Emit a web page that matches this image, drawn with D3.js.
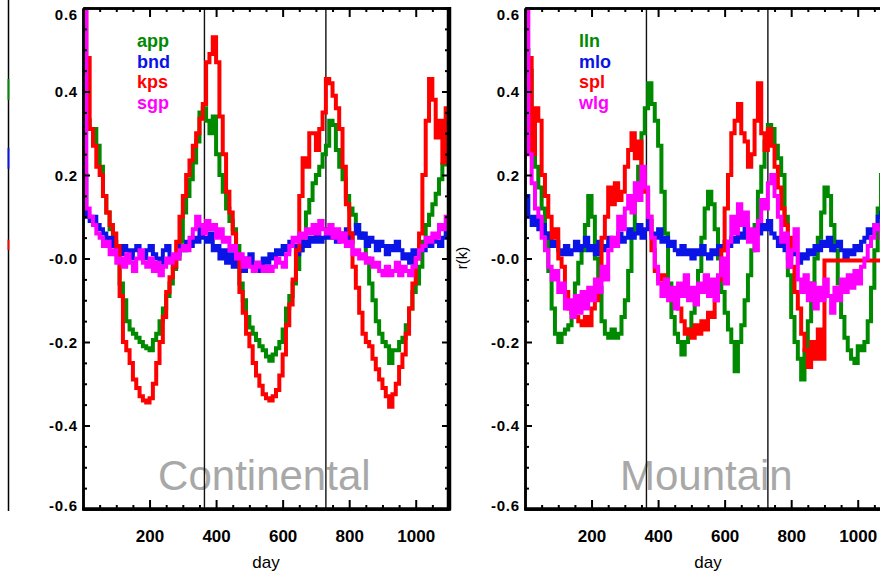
<!DOCTYPE html>
<html>
<head>
<meta charset="utf-8">
<script src="https://cdn.jsdelivr.net/npm/d3@7"></script>
<style>
  body { margin: 0; background: #fff; }
  svg { display: block; }
</style>
</head>
<body>
<svg id="chart" width="880" height="574"></svg>
<script>
// day grid, one sample every 10 days
var days = d3.range(0, 1101, 10);

// Continental sites
var appVals = [0.4, 0.33, 0.31, 0.31, 0.27, 0.22, 0.15, 0.11, 0.07, 0.04,
  0.01, -0.06, -0.1, -0.15, -0.17, -0.18, -0.19, -0.2, -0.21, -0.215,
  -0.22, -0.195, -0.18, -0.15, -0.12, -0.09, -0.06, -0.025, 0.0, 0.04,
  0.11, 0.15, 0.19, 0.23, 0.28, 0.35, 0.36, 0.33, 0.3, 0.34,
  0.25, 0.2, 0.16, 0.12, 0.09, 0.07, 0.03, -0.06, -0.1, -0.14,
  -0.165, -0.18, -0.195, -0.21, -0.22, -0.235, -0.245, -0.23, -0.215, -0.2,
  -0.17, -0.12, -0.09, -0.06, -0.025, 0.02, 0.05, 0.11, 0.14, 0.18,
  0.2, 0.22, 0.25, 0.27, 0.33, 0.32, 0.26, 0.22, 0.19, 0.15,
  0.12, 0.105, 0.08, 0.06, 0.05, 0.0, -0.06, -0.1, -0.15, -0.18,
  -0.2, -0.21, -0.25, -0.22, -0.22, -0.2, -0.19, -0.16, -0.12, -0.08,
  -0.06, -0.02, 0.04, 0.08, 0.105, 0.13, 0.155, 0.19, 0.225, 0.28, 0.26];
var bndVals = [0.2, 0.1, 0.09, 0.1, 0.08, 0.07, 0.06, 0.04, 0.05, 0.03,
  0.02, 0.01, 0.03, 0.02, 0.0, 0.02, 0.03, 0.01, 0.0, 0.02,
  0.03, 0.01, 0.0, -0.01, 0.02, 0.03, 0.0, -0.02, 0.01, 0.03,
  0.02, 0.04, 0.03, 0.05, 0.04, 0.07, 0.05, 0.04, 0.06, 0.02,
  0.03, 0.0, 0.02, -0.01, 0.01, -0.02, 0.0, -0.01, -0.03, 0.0,
  0.01, -0.02, -0.01, -0.03, 0.0, -0.01, 0.01, 0.0, 0.02, 0.01,
  0.03, 0.02, 0.04, 0.03, 0.01, 0.02, 0.04, 0.03, 0.05, 0.04,
  0.06, 0.04, 0.05, 0.07, 0.05, 0.06, 0.04, 0.06, 0.05, 0.07,
  0.04, 0.06, 0.08, 0.05, 0.06, 0.03, 0.05, 0.04, 0.02, 0.04,
  0.03, 0.01, 0.03, 0.02, 0.04, 0.02, 0.0, 0.01, -0.01, 0.02,
  0.01, 0.03, 0.02, 0.04, 0.03, 0.05, 0.04, 0.03, 0.05, 0.08, 0.06];
var kpsVals = [0.6, 0.48, 0.31, 0.27, 0.22, 0.2, 0.15, 0.11, 0.08, 0.06,
  0.03, -0.09, -0.2, -0.22, -0.25, -0.29, -0.31, -0.33, -0.34, -0.345,
  -0.335, -0.3, -0.25, -0.2, -0.14, -0.08, -0.045, -0.02, 0.04, 0.1,
  0.15, 0.2, 0.235, 0.27, 0.3, 0.335, 0.37, 0.47, 0.49, 0.53,
  0.47, 0.34, 0.25, 0.16, 0.11, 0.06, 0.01, -0.08, -0.13, -0.18,
  -0.21, -0.25, -0.28, -0.305, -0.325, -0.335, -0.34, -0.33, -0.315, -0.28,
  -0.23, -0.16, -0.11, -0.05, 0.02, 0.15, 0.24, 0.22, 0.3, 0.3,
  0.26, 0.31, 0.35, 0.43, 0.42, 0.39, 0.36, 0.31, 0.22, 0.13,
  0.06, -0.02, -0.07, -0.13, -0.18, -0.2, -0.21, -0.24, -0.265, -0.29,
  -0.31, -0.33, -0.355, -0.325, -0.3, -0.26, -0.23, -0.18, -0.12, -0.06,
  0.0, 0.06, 0.2, 0.33, 0.43, 0.38, 0.29, 0.33, 0.23, 0.36, 0.31];
var sgpVals = [0.6, 0.12, 0.1, 0.08, 0.06, 0.05, 0.03, 0.04, 0.01, 0.02,
  -0.01, 0.0, -0.02, 0.01, -0.01, -0.03, 0.0, 0.02, -0.01, -0.02,
  0.0, -0.03, -0.01, -0.04, -0.02, 0.0, -0.01, 0.01, 0.0, 0.02,
  0.03, 0.02, 0.05, 0.07, 0.1, 0.08, 0.06, 0.09, 0.07, 0.08,
  0.05, 0.07, 0.04, 0.05, 0.02, 0.03, 0.0, 0.01, -0.02, 0.0,
  -0.02, -0.03, -0.01, -0.02, -0.03, -0.02, -0.03, -0.02, 0.0, -0.01,
  -0.02, 0.01, 0.03, 0.05, 0.04, 0.06, 0.05, 0.07, 0.06, 0.08,
  0.06, 0.09, 0.07, 0.06, 0.08, 0.05, 0.07, 0.04, 0.06, 0.03,
  0.04, 0.01, 0.02, 0.0, 0.01, -0.01, 0.0, -0.02, -0.01, -0.03,
  -0.04, -0.02, -0.04, -0.03, -0.01, -0.04, -0.02, -0.03, -0.04, -0.02,
  0.0, 0.02, 0.03, 0.05, 0.04, 0.06, 0.05, 0.08, 0.07, 0.1, 0.14];

// Mountain sites
var llnVals = [0.5, 0.45, 0.3, 0.22, 0.17, 0.12, 0.06, -0.03, -0.12, -0.18,
  -0.2, -0.18, -0.17, -0.16, -0.12, -0.06, -0.01, 0.02, 0.08, 0.15,
  0.1, 0.0, -0.07, -0.15, -0.18, -0.19, -0.17, -0.19, -0.18, -0.14,
  -0.1, -0.03, 0.06, 0.15, 0.22, 0.3, 0.36, 0.42, 0.37, 0.33,
  0.27, 0.16, 0.06, -0.06, -0.14, -0.18, -0.2, -0.23, -0.2, -0.17,
  -0.13, -0.08, -0.03, 0.05, 0.12, 0.16, 0.13, 0.07, 0.0, -0.08,
  -0.13, -0.17, -0.2, -0.27, -0.2, -0.16, -0.1, -0.04, 0.02, 0.08,
  0.16, 0.22, 0.28, 0.32, 0.31, 0.27, 0.24, 0.2, 0.1, -0.04,
  -0.14, -0.2, -0.24, -0.29, -0.22, -0.15, -0.06, 0.0, 0.05, 0.11,
  0.17, 0.15, 0.08, 0.02, -0.06, -0.14, -0.19, -0.22, -0.24, -0.25,
  -0.21, -0.22, -0.2, -0.15, -0.07, 0.02, 0.12, 0.2, 0.24, 0.26, 0.25];
var mloVals = [0.15, 0.1, 0.08, 0.1, 0.07, 0.08, 0.06, 0.05, 0.03, 0.04,
  0.02, 0.01, 0.03, 0.01, 0.02, 0.04, 0.02, 0.03, 0.05, 0.02,
  0.03, 0.01, 0.04, 0.02, 0.03, 0.05, 0.03, 0.04, 0.06, 0.04,
  0.05, 0.07, 0.05, 0.06, 0.08, 0.05, 0.07, 0.09, 0.06, 0.05,
  0.07, 0.04, 0.05, 0.03, 0.04, 0.02, 0.01, 0.03, 0.01, 0.02,
  0.0, 0.02, 0.01, 0.03, 0.01, 0.0, 0.02, 0.01, 0.03, 0.02,
  0.04, 0.03, 0.05, 0.04, 0.06, 0.05, 0.08, 0.06, 0.05, 0.07,
  0.06, 0.08, 0.07, 0.09, 0.06, 0.05, 0.03, 0.04, 0.02, 0.0,
  0.02, 0.01, -0.01, 0.01, 0.0, 0.02, 0.01, 0.03, 0.02, 0.04,
  0.03, 0.05, 0.02, 0.03, 0.04, 0.02, 0.0, 0.02, 0.01, 0.03,
  0.02, 0.04, 0.05, 0.07, 0.06, 0.08, 0.1, 0.11, 0.1, 0.12, 0.11];
var splVals = [0.3, 0.48, 0.25, 0.36, 0.33, 0.2, 0.15, 0.1, 0.05, 0.07,
  0.0, -0.02, -0.08, -0.12, -0.13, -0.14, -0.15, -0.16, -0.14, -0.16,
  -0.12, -0.1, -0.05, 0.05, 0.1, 0.17, 0.13, 0.18, 0.14, 0.16,
  0.22, 0.26, 0.3, 0.24, 0.28, 0.2, 0.16, 0.1, 0.02, -0.03,
  -0.05, -0.04, -0.06, -0.08, -0.1, -0.09, -0.12, -0.15, -0.18, -0.17,
  -0.19, -0.16, -0.18, -0.15, -0.17, -0.13, -0.14, -0.1, -0.05, 0.02,
  0.12, 0.2, 0.3, 0.33, 0.37, 0.3, 0.28, 0.22, 0.25, 0.33,
  0.42, 0.3, 0.26, 0.31, 0.27, 0.22, 0.17, 0.12, 0.08, 0.05,
  -0.02, -0.08, -0.12, -0.18, -0.22, -0.26, -0.2, -0.24, -0.17, -0.24,
  -0.005, -0.005, -0.005, -0.005, -0.005, -0.005, -0.005, -0.005, -0.005, -0.005,
  -0.005, -0.005, -0.005, -0.005, -0.005, -0.005, -0.005, -0.005, -0.005, -0.005, -0.005];
var wlgVals = [0.6, 0.25, 0.18, 0.12, 0.1, 0.05, 0.02, -0.02, -0.05, -0.03,
  -0.08, -0.06, -0.12, -0.1, -0.14, -0.09, -0.13, -0.08, -0.12, -0.07,
  -0.1, -0.05, -0.08, -0.02, -0.05, 0.02, 0.05, 0.03, 0.1, 0.07,
  0.12, 0.15, 0.11, 0.18, 0.14, 0.22, 0.17, 0.1, 0.05, -0.02,
  -0.06, -0.09, -0.05, -0.1, -0.07, -0.12, -0.06, -0.09, -0.04, -0.1,
  -0.07, -0.11, -0.06, -0.08, -0.04, -0.09, -0.05, -0.1, -0.04, 0.0,
  -0.06, 0.04, 0.1, 0.06, 0.13, 0.08, 0.11, 0.04, 0.07, 0.02,
  0.09, 0.14, 0.12, 0.18, 0.2, 0.15, 0.1, 0.04, 0.06, -0.02,
  0.02, 0.07, -0.05, -0.08, -0.04, -0.1, -0.06, -0.12, -0.07, -0.1,
  -0.05, -0.09, -0.13, -0.07, -0.1, -0.05, -0.08, -0.04, -0.07, -0.03,
  -0.06, -0.02, 0.0, 0.03, 0.05, 0.08, 0.07, 0.05, 0.06, 0.05, 0.04];

var leftNames = ["app", "bnd", "kps", "sgp"];
var rightNames = ["lln", "mlo", "spl", "wlg"];
var colors = ["#008a00", "#0a14e6", "#ff0000", "#ff00ff"];

var xTicks = [200, 400, 600, 800, 1000];
var yTicks = [-0.6, -0.4, -0.2, 0.0, 0.2, 0.4, 0.6];
var yTickLabels = ["-0.6", "-0.4", "-0.2", "-0.0", "0.2", "0.4", "0.6"];
var yearLines = [365, 730];

// bits of the neighbouring panel that show at the left edge
var edgeBits = [{c: "#008a00", v0: 0.43, v1: 0.38}, {c: "#0a14e6", v0: 0.265, v1: 0.215}, {c: "#ff0000", v0: 0.045, v1: 0.02}];

var svg = d3.select("#chart");
var W = 366, plotTop = 8, plotBot = 509;

function drawPanel(id, x0, series, names, label) {
  var x = d3.scaleLinear().domain([0, 1100]).range([x0, x0 + W]);
  var y = d3.scaleLinear().domain([-0.6, 0.6]).range([plotBot, plotTop]);
  var g = svg.append("g");

  svg.append("clipPath").attr("id", "clip" + id)
    .append("rect").attr("x", x0).attr("y", plotTop).attr("width", W).attr("height", plotBot - plotTop);

  // big grey site type
  g.append("text")
    .attr("x", x(545)).attr("y", 490)
    .attr("text-anchor", "middle")
    .style("font-family", "'Liberation Sans', Arial, sans-serif")
    .style("font-size", "42px")
    .style("fill", "#a8a8a8")
    .text(label);

  // year markers
  g.selectAll(".yr").data(yearLines).enter().append("line")
    .attr("x1", d => x(d)).attr("x2", d => x(d))
    .attr("y1", plotTop).attr("y2", plotBot)
    .attr("stroke", "#111").attr("stroke-width", 1.4);

  var line = d3.line()
    .x((d, i) => x(days[i]))
    .y(d => y(d))
    .curve(d3.curveStepAfter);

  var lines = g.append("g").attr("clip-path", "url(#clip" + id + ")");
  series.forEach(function(s, k) {
    lines.append("path")
      .attr("d", line(s))
      .attr("fill", "none")
      .attr("stroke", colors[k])
      .attr("stroke-width", 4)
      .attr("stroke-linejoin", "miter");
  });

  // legend
  names.forEach(function(n, k) {
    g.append("text")
      .attr("x", x0 + 54).attr("y", 47 + k * 20.7)
      .style("font-family", "'Liberation Sans', Arial, sans-serif")
      .style("font-size", "18px")
      .style("font-weight", "bold")
      .style("fill", colors[k])
      .text(n);
  });

  var xMinor = d3.range(0, 1101, 50).filter(d => d % 200 != 0);
  var yMinor = d3.range(-12, 13).map(d => d * 0.05).filter(d => Math.abs(Math.round(d * 100)) % 20 != 0);

  // bottom
  var bx = g.append("g").attr("transform", "translate(0," + plotBot + ")")
    .call(d3.axisBottom(x).tickValues(xTicks).tickSizeInner(-9).tickSizeOuter(0).tickPadding(21)
      .tickFormat(d3.format("d")));
  g.append("g").attr("transform", "translate(0," + plotBot + ")")
    .call(d3.axisBottom(x).tickValues(xMinor).tickSizeInner(-4).tickSizeOuter(0).tickFormat(""));
  // top
  g.append("g").attr("transform", "translate(0," + plotTop + ")")
    .call(d3.axisTop(x).tickValues(xTicks).tickSizeInner(-9).tickSizeOuter(0).tickFormat(""));
  g.append("g").attr("transform", "translate(0," + plotTop + ")")
    .call(d3.axisTop(x).tickValues(xMinor).tickSizeInner(-4).tickSizeOuter(0).tickFormat(""));
  // left
  var ly = g.append("g").attr("transform", "translate(" + x0 + ",0)")
    .call(d3.axisLeft(y).tickValues(yTicks).tickSizeInner(-7).tickSizeOuter(0).tickPadding(5)
      .tickFormat((d, i) => yTickLabels[i]));
  g.append("g").attr("transform", "translate(" + x0 + ",0)")
    .call(d3.axisLeft(y).tickValues(yMinor).tickSizeInner(-4).tickSizeOuter(0).tickFormat(""));
  // right
  g.append("g").attr("transform", "translate(" + (x0 + W) + ",0)")
    .call(d3.axisRight(y).tickValues(yTicks).tickSizeInner(-7).tickSizeOuter(0).tickFormat(""));
  g.append("g").attr("transform", "translate(" + (x0 + W) + ",0)")
    .call(d3.axisRight(y).tickValues(yMinor).tickSizeInner(-4).tickSizeOuter(0).tickFormat(""));

  g.selectAll(".tick line").attr("stroke", "#000").attr("stroke-width", 2);
  g.selectAll(".domain").attr("stroke", "#000").attr("stroke-width", 2.5);
  g.selectAll(".tick text")
    .style("font-family", "'Liberation Sans', Arial, sans-serif")
    .style("font-weight", "bold")
    .attr("fill", "#000");
  bx.selectAll("text").style("font-size", "17px").attr("dy", "0.71em");
  ly.selectAll("text").style("font-size", "15px").style("letter-spacing", "0.8px")
    .attr("dy", d => d == 0.6 ? "0.75em" : (d == -0.6 ? "0.1em" : "0.35em"));

  // thick right frame edge and bottom
  g.append("line")
    .attr("x1", x0 + W).attr("x2", x0 + W).attr("y1", plotTop - 1).attr("y2", plotBot + 1)
    .attr("stroke", "#000").attr("stroke-width", 4.5);
  g.append("line")
    .attr("x1", x0 - 1).attr("x2", x0 + W + 2).attr("y1", plotBot).attr("y2", plotBot)
    .attr("stroke", "#000").attr("stroke-width", 3.5);

  // axis title
  g.append("text")
    .attr("x", x(550)).attr("y", 568)
    .attr("text-anchor", "middle")
    .style("font-family", "'Liberation Sans', Arial, sans-serif")
    .style("font-size", "17px")
    .text("day");

  return y;
}

var yL = drawPanel("L", 83, [appVals, bndVals, kpsVals, sgpVals], leftNames, "Continental");
drawPanel("R", 525, [llnVals, mloVals, splVals, wlgVals], rightNames, "Mountain");

// y label of the right panel, sitting between the panels
svg.append("text")
  .attr("transform", "translate(467,258) rotate(-90)")
  .attr("text-anchor", "middle")
  .style("font-family", "'Liberation Sans', Arial, sans-serif")
  .style("font-size", "15px")
  .text("r(k)");

// edge of the neighbouring panel on the far left
svg.append("line")
  .attr("x1", 8.5).attr("x2", 8.5).attr("y1", 0).attr("y2", 511)
  .attr("stroke", "#000").attr("stroke-width", 1.5);
svg.selectAll(".edgebit").data(edgeBits).enter().append("line")
  .attr("x1", 8.5).attr("x2", 8.5)
  .attr("y1", d => yL(d.v0)).attr("y2", d => yL(d.v1))
  .attr("stroke", d => d.c).attr("stroke-width", 1.8);
</script>
</body>
</html>
